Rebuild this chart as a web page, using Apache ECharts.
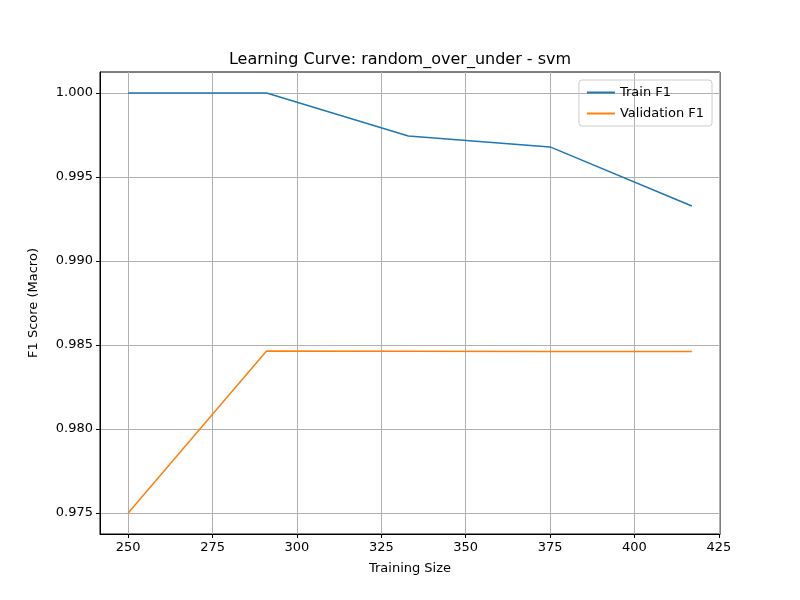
<!DOCTYPE html>
<html>
<head>
<meta charset="utf-8">
<script src="https://cdn.jsdelivr.net/npm/echarts@6/dist/echarts.min.js"></script>
<style>html,body{margin:0;padding:0;background:#fff}#chart{width:800px;height:600px}</style>
</head>
<body>
<div id="chart"></div>
<script>
var trainSizes = [250, 291, 333, 375, 417];
var trainF1 = [1.0, 1.0, 0.99744, 0.99679, 0.99327];
var valF1 = [0.975, 0.98464, 0.98463, 0.98462, 0.98462];
var xTicks = [250, 275, 300, 325, 350, 375, 400, 425];
var yTicks = [0.975, 0.980, 0.985, 0.990, 0.995, 1.000];

function pairs(xs, ys) {
    return xs.map(function (x, i) { return [x, ys[i]]; });
}

var font = 'DejaVu Sans';
var chart = echarts.init(document.getElementById('chart'));
chart.setOption({
    animation: false,
    textStyle: { fontFamily: font },
    title: {
        text: 'Learning Curve: random_over_under - svm',
        left: 'center', top: 47,
        textStyle: { fontFamily: font, fontSize: 16, fontWeight: 'normal', color: '#000' }
    },
    legend: {
        right: 88, top: 80, orient: 'vertical',
        itemWidth: 28, itemHeight: 2, itemGap: 8,
        padding: [6, 8],
        borderColor: '#ccc', borderWidth: 1, borderRadius: 3,
        textStyle: { fontFamily: font, fontSize: 13, color: '#000' },
        data: [{ name: 'Train F1', icon: 'rect' }, { name: 'Validation F1', icon: 'rect' }]
    },
    grid: { left: 100, right: 80, top: 72, bottom: 66, show: true, borderColor: '#000', borderWidth: 1 },
    xAxis: {
        type: 'value', min: 241.65, max: 425.35,
        name: 'Training Size', nameLocation: 'middle', nameGap: 28,
        nameTextStyle: { fontFamily: font, fontSize: 13, color: '#000' },
        axisLine: { lineStyle: { color: '#000' } },
        axisTick: { customValues: xTicks, length: 4, lineStyle: { color: '#000' } },
        axisLabel: { customValues: xTicks, fontSize: 13, color: '#000', fontFamily: font, margin: 7 },
        splitLine: { show: true, lineStyle: { color: '#b0b0b0', width: 1 } }
    },
    yAxis: {
        type: 'value', min: 0.97375, max: 1.00125,
        name: 'F1 Score (Macro)', nameLocation: 'middle', nameGap: 60, nameRotate: 90,
        nameTextStyle: { fontFamily: font, fontSize: 13, color: '#000' },
        axisLine: { show: true, lineStyle: { color: '#000' } },
        axisTick: { show: true, customValues: yTicks, length: 4, lineStyle: { color: '#000' } },
        axisLabel: { customValues: yTicks, fontSize: 13, color: '#000', fontFamily: font, margin: 7,
            formatter: function (v) { return v.toFixed(3); } },
        splitLine: { show: true, lineStyle: { color: '#b0b0b0', width: 1 } }
    },
    series: [
        { name: 'Train F1', type: 'line', data: pairs(trainSizes, trainF1), showSymbol: false,
          itemStyle: { color: '#1f77b4' }, lineStyle: { color: '#1f77b4', width: 1.5 } },
        { name: 'Validation F1', type: 'line', data: pairs(trainSizes, valF1), showSymbol: false,
          itemStyle: { color: '#ff7f0e' }, lineStyle: { color: '#ff7f0e', width: 1.5 } }
    ]
});
</script>
</body>
</html>
